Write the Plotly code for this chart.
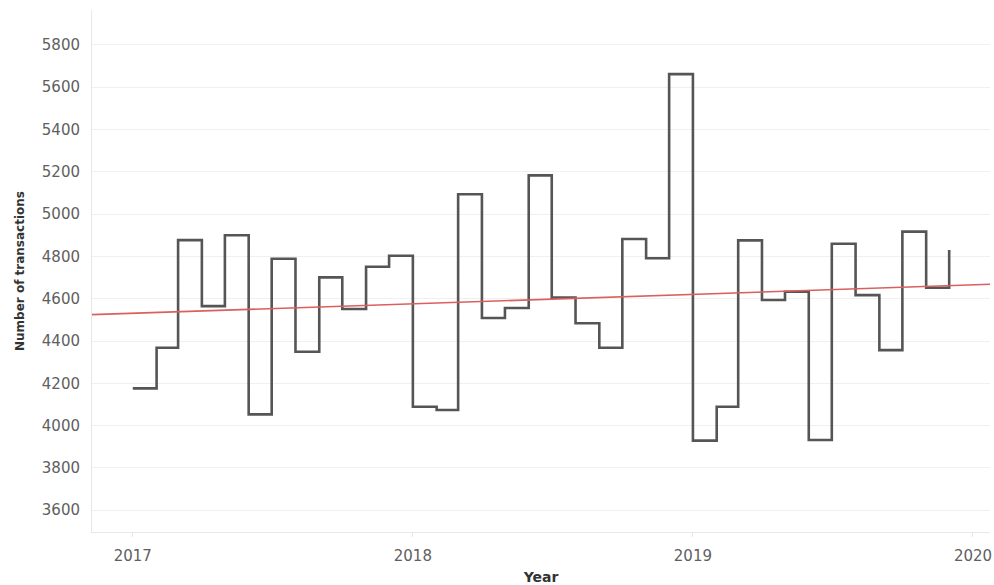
import numpy as np
import pandas as pd
import plotly.graph_objects as go

# ---- data (monthly number of transactions) ----
months = pd.date_range("2017-01-01", periods=36, freq="MS")
values_2017 = [4176, 4368, 4877, 4565, 4900, 4053, 4789, 4349, 4701, 4551, 4751, 4803]
values_2018 = [4089, 4074, 5094, 4509, 4556, 5183, 4605, 4484, 4368, 4882, 4791, 5662]
values_2019 = [3929, 4089, 4876, 4594, 4633, 3932, 4860, 4617, 4357, 4917, 4652, 4830]
values = values_2017 + values_2018 + values_2019

y_ticks = [3600, 3800, 4000, 4200, 4400, 4600, 4800, 5000, 5200, 5400, 5600, 5800]
x_tick_labels = ["2017", "2018", "2019", "2020"]

# ---- x range with 5% expansion (ggplot style) ----
t0 = months[0]
days = np.array([(d - t0).days for d in months], dtype=float)
span = days.max() - days.min()
x_lo_days = days.min() - 0.05 * span
x_hi_days = days.max() + 0.05 * span
x_lo = t0 + pd.Timedelta(days=x_lo_days)
x_hi = t0 + pd.Timedelta(days=x_hi_days)

# ---- linear trend (OLS), drawn over the full range ----
slope, intercept = np.polyfit(days, np.array(values, dtype=float), 1)
trend_x = [x_lo, x_hi]
trend_y = [intercept + slope * x_lo_days, intercept + slope * x_hi_days]

fig = go.Figure()
fig.add_trace(go.Scatter(
    x=months, y=values, mode="lines",
    line=dict(shape="hv", color="#555555", width=2.6),
    showlegend=False, hoverinfo="x+y",
))
fig.add_trace(go.Scatter(
    x=trend_x, y=trend_y, mode="lines",
    line=dict(color="#d9605f", width=1.6),
    showlegend=False, hoverinfo="skip",
))

tick_font = dict(family="DejaVu Sans", size=15, color="#606060")
line_col = "#e8e8e8"

fig.update_layout(
    width=994, height=585,
    margin=dict(l=92, r=4, t=10, b=53),
    paper_bgcolor="white", plot_bgcolor="white",
    xaxis=dict(
        range=[x_lo, x_hi],
        tickvals=[pd.Timestamp(f"{y}-01-01") for y in x_tick_labels],
        ticktext=x_tick_labels,
        tickfont=tick_font,
        showgrid=False, zeroline=False,
        showline=True, linecolor=line_col, linewidth=1,
        ticks="outside", ticklen=4, tickcolor=line_col,
        ticklabelstandoff=6,
        automargin=False,
        title=dict(text="<b>Year</b>", font=dict(family="DejaVu Sans", size=14, color="#333333"), standoff=10),
    ),
    yaxis=dict(
        range=[3497, 5965],
        tickvals=y_ticks,
        tickfont=tick_font,
        showgrid=True, gridcolor="#f0f0f0", gridwidth=1,
        zeroline=False,
        showline=True, linecolor=line_col, linewidth=1,
        ticks="", ticklabelstandoff=8,
        automargin=False,
        title=dict(text="<b>Number of transactions</b>", font=dict(family="DejaVu Sans", size=12, color="#333333"), standoff=14),
    ),
)

fig.write_html(
    "out.html",
    config={"displayModeBar": False},
    post_script="document.body.style.margin='0';document.body.style.padding='0';document.body.style.overflow='hidden';",
)
